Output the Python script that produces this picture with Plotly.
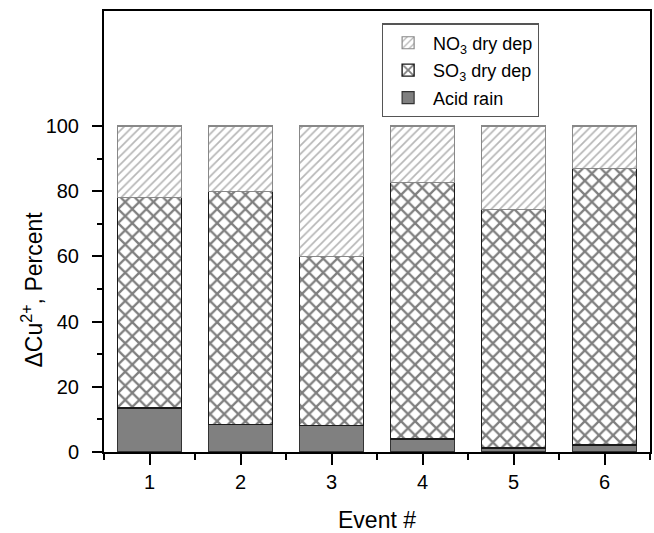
import plotly.graph_objects as go

# Share of copper-loss (ΔCu2+) by deposition pathway for each event
events = [1, 2, 3, 4, 5, 6]
acid_rain = [13.5, 8.5, 8.2, 4.0, 1.2, 2.1]
so3_dry = [64.7, 71.4, 51.8, 78.8, 73.2, 84.9]
no3_dry = [21.8, 20.1, 40.0, 17.2, 25.6, 13.0]

y_major = [0, 20, 40, 60, 80, 100]
y_minor = [10, 30, 50, 70, 90]
x_minor = [0.5, 1.5, 2.5, 3.5, 4.5, 5.5, 6.5]

FONT = "Liberation Sans, Arial, sans-serif"

fig = go.Figure()

fig.add_trace(go.Bar(
    x=events, y=acid_rain, name="Acid rain", legendgroup="a", legendrank=3,
    width=0.7,
    marker=dict(color="#808080", line=dict(color="#333333", width=1.2)),
))
fig.add_trace(go.Bar(
    x=events, y=so3_dry, name="SO<sub>3</sub> dry dep", legendgroup="b",
    legendrank=2, width=0.7,
    marker=dict(color="white", line=dict(color="#1a1a1a", width=1.4),
                pattern=dict(shape="x", size=10, solidity=0.4,
                             fgcolor="#000000", bgcolor="white")),
))
fig.add_trace(go.Bar(
    x=events, y=no3_dry, name="NO<sub>3</sub> dry dep", legendgroup="c",
    legendrank=1, width=0.7,
    marker=dict(color="white", line=dict(color="#888888", width=1.2),
                pattern=dict(shape="/", size=6, solidity=0.28,
                             fgcolor="#6e6e6e", bgcolor="white")),
))

axis_common = dict(
    showline=True, linecolor="black", linewidth=2, mirror=True,
    ticks="outside", tickcolor="black", tickwidth=2,
    showgrid=False, zeroline=False,
    tickfont=dict(family=FONT, size=20, color="black"),
)

fig.update_xaxes(
    range=[0.5, 6.5], tickmode="array", tickvals=events, ticklen=11,
    minor=dict(tickmode="array", tickvals=x_minor, ticklen=6,
               tickwidth=2, tickcolor="black", ticks="outside"),
    title=dict(text="Event #", font=dict(family=FONT, size=23, color="black"),
               standoff=22),
    **axis_common,
)
fig.update_yaxes(
    range=[0, 135.3], tickmode="array", tickvals=y_major, ticklen=10,
    ticklabelstandoff=9,
    minor=dict(tickmode="array", tickvals=y_minor, ticklen=5,
               tickwidth=2, tickcolor="black", ticks="outside"),
    **axis_common,
)

fig.add_annotation(
    text="ΔCu<sup>2+</sup>, Percent", textangle=-90,
    xref="paper", yref="y", x=-0.131, y=50,
    xanchor="center", yanchor="middle", showarrow=False,
    font=dict(family=FONT, size=23, color="black"),
)

fig.update_layout(
    width=654, height=533,
    margin=dict(l=104, r=2, t=11, b=81),
    barmode="stack",
    paper_bgcolor="white", plot_bgcolor="white",
    font=dict(family=FONT, color="black"),
    legend=dict(
        x=0.509, y=0.972, xanchor="left", yanchor="top",
        traceorder="grouped", tracegroupgap=1,
        bordercolor="#555555", borderwidth=1.2, bgcolor="white",
        font=dict(family=FONT, size=18, color="black"),
        itemwidth=40,
    ),
)

fig.write_html("out.html")
